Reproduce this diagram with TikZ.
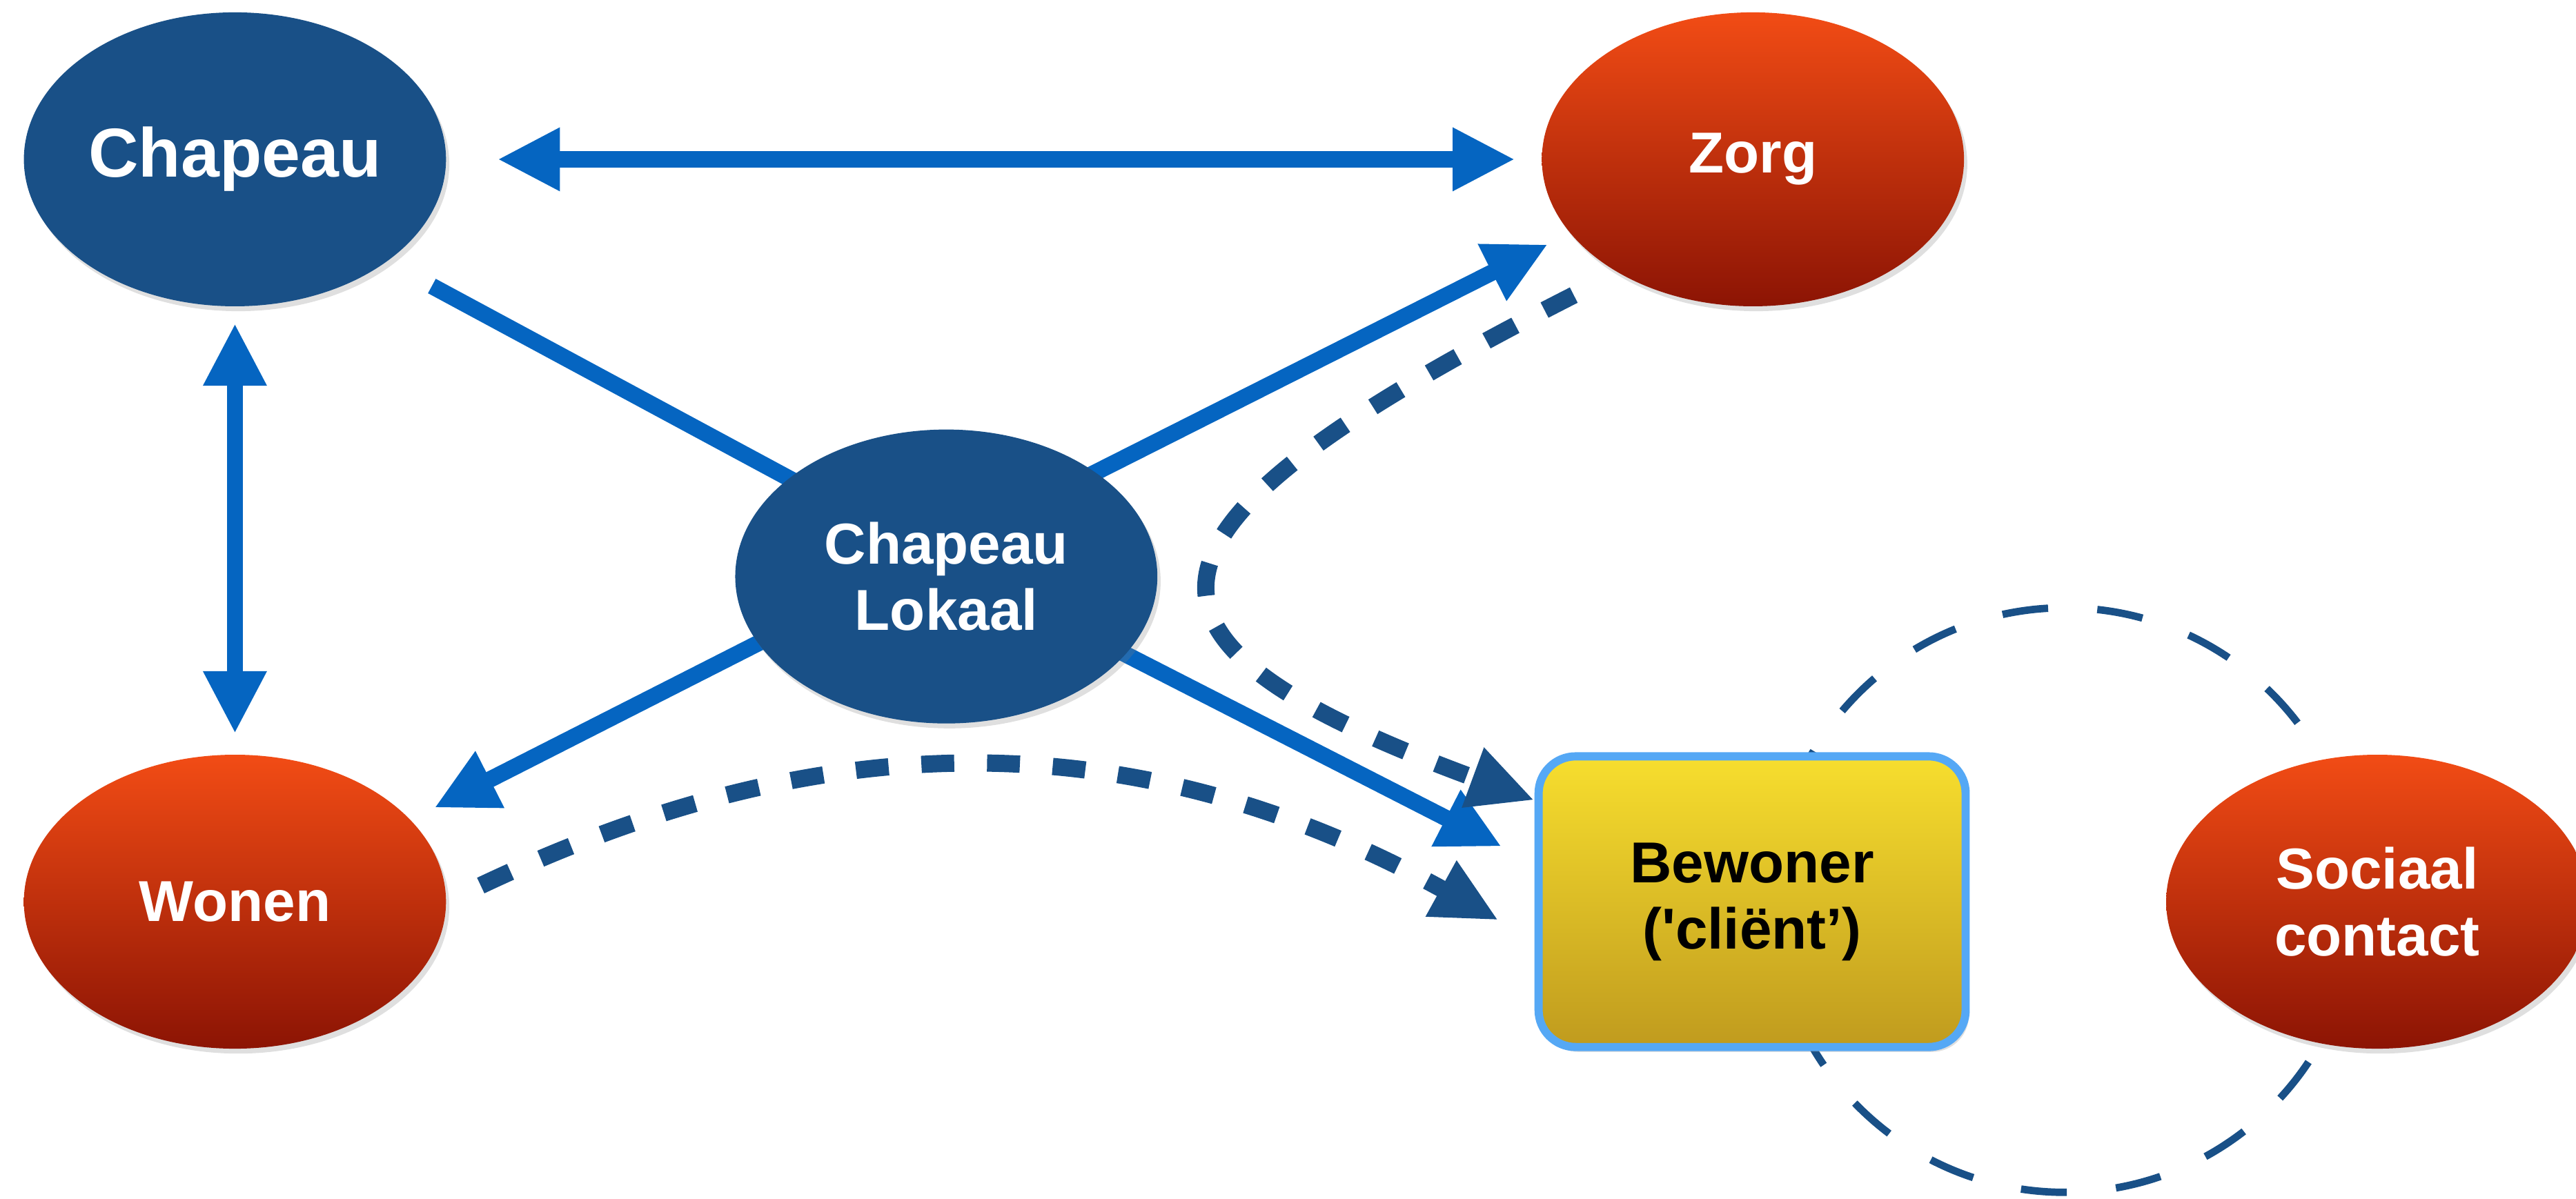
\documentclass[tikz,border=0pt]{standalone}
\usepackage{fontspec}
\setmainfont{Liberation Sans}
\usetikzlibrary{shapes.geometric,arrows.meta,shadows,backgrounds}

\definecolor{chapeaublue}{RGB}{25,80,135}
\definecolor{arrowblue}{RGB}{5,101,193}
\definecolor{redtop}{RGB}{242,76,21}
\definecolor{redbottom}{RGB}{140,20,4}
\definecolor{yellowtop}{RGB}{247,222,46}
\definecolor{yellowbottom}{RGB}{192,155,30}
\definecolor{boxborder}{RGB}{85,168,245}

\begin{document}
\begin{tikzpicture}[x=0.02cm, y=-0.02cm,
    blob/.style={ellipse, minimum width=5.14cm, minimum height=3.58cm, inner sep=0pt,
        text=white, align=center, font=\bfseries\fontsize{20}{23}\selectfont,
        drop shadow={opacity=0.25, shadow xshift=0.04cm, shadow yshift=-0.06cm}},
    bluenode/.style={blob, fill=chapeaublue},
    rednode/.style={blob, top color=redtop, bottom color=redbottom},
    clientbox/.style={rectangle, rounded corners=0.45cm, draw=boxborder, line width=0.1cm,
        top color=yellowtop, bottom color=yellowbottom, minimum width=5.2cm,
        minimum height=3.54cm, align=center, font=\bfseries\fontsize{20}{23}\selectfont,
        drop shadow={opacity=0.25, shadow xshift=0.04cm, shadow yshift=-0.06cm}},
    solidline/.style={draw=arrowblue, line width=0.2cm},
    solidarrow/.style={solidline, -{Triangle[length=0.76cm, width=0.72cm]}},
    biarrow/.style={solidline, {Triangle[length=0.76cm, width=0.72cm]}-{Triangle[length=0.76cm, width=0.72cm]}},
    dasharrow/.style={draw=chapeaublue, line width=0.21cm, dash pattern=on 0.4cm off 0.4cm,
        -{Triangle[length=0.8cm, width=0.72cm]}},
    dashring/.style={circle, draw=chapeaublue, line width=0.09cm,
        dash pattern=on 0.56cm off 0.6cm, minimum size=7.12cm, inner sep=0pt}]

    % Fix the page size
    \useasboundingbox (0,0) rectangle (1568,730);

    % Draw the dashed ring round the client
    \node[dashring] (kring) at (1257,548) {};

    % Draw the ellipses
    \node[bluenode, font=\bfseries\fontsize{24}{28}\selectfont] (chapeau) at (143,97) {Chapeau};
    \node[rednode] (zorg) at (1067,97) {Zorg};
    \node[bluenode] (lokaal) at (576,351) {Chapeau\\Lokaal};
    \node[rednode] (wonen) at (143,549) {Wonen};
    \node[rednode] (sociaal) at (1447,549) {Sociaal\\contact};

    % Draw the client box
    \node[clientbox] (bewoner) at (1066.5,549) {Bewoner\\(\textquotesingle cliënt’)};

    % Crossing point of the lines
    \coordinate (hub) at ([shift={(-9,-13)}]lokaal.center);

    \begin{pgfonlayer}{background}
    % Draw the double arrows
    \draw[biarrow, shorten <=0.62cm, shorten >=0.32cm] (chapeau) -- (zorg);
    \draw[biarrow, shorten <=0.2cm, shorten >=0.25cm] (chapeau) -- (wonen);

    % Draw the lines through Chapeau Lokaal
    \draw[solidline, shorten >=0.62cm] (hub) -- (chapeau.-34);
    \draw[solidarrow, shorten >=0.3cm] (hub) -- (zorg.-158);
    \draw[solidarrow, shorten >=0.32cm] (hub) -- (wonen.25);
    \draw[solidarrow, shorten >=0.45cm] (hub) -- (bewoner.170);

    % Draw the dashed arrows to the client
    \draw[dasharrow, shorten <=0.6cm] (zorg.-140) .. controls (670,326) and (670,390) .. (bewoner.155);
    \draw[dasharrow, shorten <=0.46cm, shorten >=0.5cm] (wonen.east) .. controls (460,460) and (658,420) .. (bewoner.190);
    \end{pgfonlayer}
\end{tikzpicture}
\end{document}
